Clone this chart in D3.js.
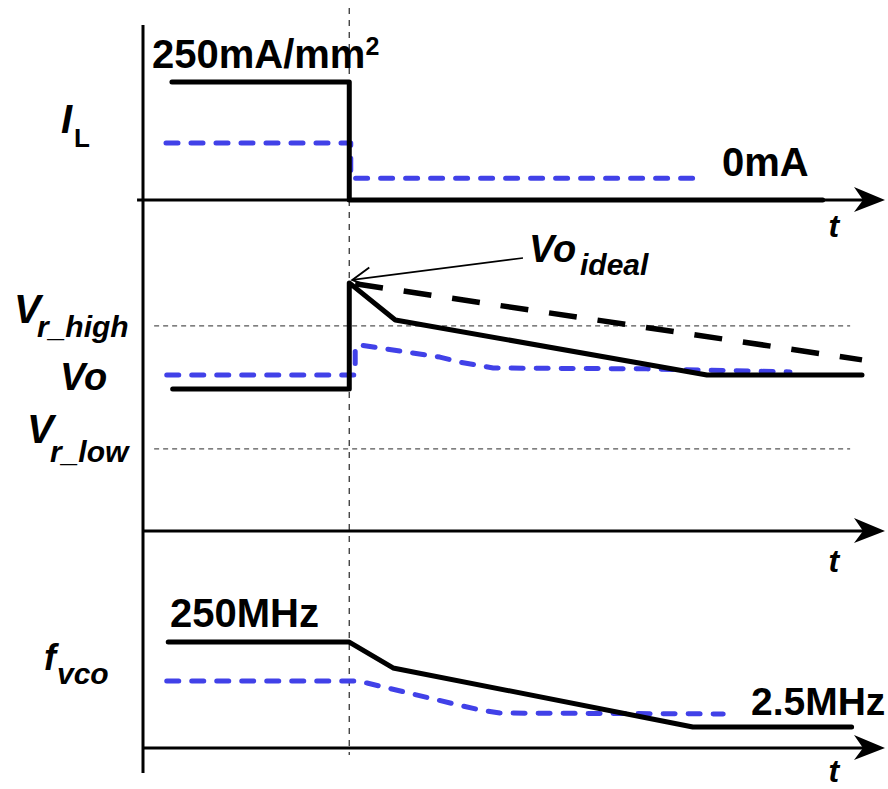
<!DOCTYPE html>
<html>
<head>
<meta charset="utf-8">
<script src="https://cdn.jsdelivr.net/npm/d3@7"></script>
<style>
  html, body { margin: 0; padding: 0; background: #fff; }
  svg { display: block; }
  text { font-family: "Liberation Sans", Arial, Helvetica, sans-serif; font-weight: bold; fill: #000; }
</style>
</head>
<body>
<svg id="chart" width="888" height="789"></svg>
<script>
// ---------- data (time in arbitrary units 0..100) ----------
const stepTime = 27.8;                       // moment the load current drops
// Panel 1: load current I_L (mA/mm^2)
const ilBlack = [[3.9, 250], [27.8, 250], [27.8, 0], [91.6, 0]];
const ilBlue  = [[3.1, 121], [28.0, 121], [28.0, 46], [75.3, 46]];
// Panel 2: output voltage (normalised)
const vrLevels = [0.730, 0.292];             // Vr_high, Vr_low
const voBlack = [[4.0, 0.505], [27.8, 0.505], [27.8, 0.883], [34.0, 0.751], [76.0, 0.555], [96.9, 0.555]];
const voIdeal = [[27.8, 0.883], [96.9, 0.609]];
const voBlue  = [[3.2, 0.555], [28.6, 0.555], [28.6, 0.655], [29.2, 0.662], [40.0, 0.619],
                 [42.7, 0.601], [47.2, 0.580], [67.9, 0.577], [87.2, 0.566]];
// Panel 3: VCO frequency (normalised)
const fBlack = [[3.4, 0.716], [27.8, 0.716], [33.7, 0.541], [74.1, 0.142], [95.5, 0.142]];
const fBlue  = [[3.2, 0.453], [28.8, 0.453], [30.2, 0.439], [41.4, 0.304], [45.4, 0.257],
                [48.1, 0.236], [78.2, 0.230]];
// text labels
const valueLabels = ["250mA/mm", "0mA", "250MHz", "2.5MHz"];

// ---------- scales ----------
const svg = d3.select("#chart");
const x  = d3.scaleLinear().domain([0, 100]).range([143, 885]);
const yI = d3.scaleLinear().domain([0, 250]).range([200, 82]);
const yV = d3.scaleLinear().domain([0, 1]).range([531, 250]);
const yF = d3.scaleLinear().domain([0, 1]).range([748, 600]);

const blue = "#4141e8";

// ---------- guides ----------
svg.append("line")
  .attr("x1", x(stepTime)).attr("x2", x(stepTime))
  .attr("y1", 8).attr("y2", 755)
  .attr("stroke", "#444").attr("stroke-width", 1.4).attr("stroke-dasharray", "6,6");

svg.selectAll("line.vr").data(vrLevels).join("line")
  .attr("class", "vr")
  .attr("x1", x(1.5)).attr("x2", x(95.3))
  .attr("y1", d => yV(d)).attr("y2", d => yV(d))
  .attr("stroke", "#555").attr("stroke-width", 1.2).attr("stroke-dasharray", "5,4");

// ---------- axes ----------
svg.append("line")
  .attr("x1", x(0)).attr("x2", x(0)).attr("y1", 25).attr("y2", 773)
  .attr("stroke", "#000").attr("stroke-width", 3);

const axesY = [[yI(0), x(-0.8), 37], [yV(0), x(0), 41], [yF(0), x(0), 34]];
const xe = x(100);
axesY.forEach(([ay, xs, toff]) => {
  svg.append("line")
    .attr("x1", xs).attr("x2", xe - 20).attr("y1", ay).attr("y2", ay)
    .attr("stroke", "#000").attr("stroke-width", 2.8);
  svg.append("path")
    .attr("d", `M${xe},${ay} L${xe - 31},${ay - 13} L${xe - 22},${ay} L${xe - 31},${ay + 12} Z`)
    .attr("fill", "#000");
  svg.append("text")
    .attr("x", x(92.4)).attr("y", ay + toff)
    .attr("font-size", 32).attr("font-style", "italic")
    .text("t");
});

// ---------- series ----------
const line = (ys) => d3.line().x(d => x(d[0])).y(d => ys(d[1]));

function solid(data, ys) {
  svg.append("path").attr("d", line(ys)(data))
    .attr("fill", "none").attr("stroke", "#000").attr("stroke-width", 5)
    .attr("stroke-linejoin", "round").attr("stroke-linecap", "round");
}
function blueDash(data, ys) {
  svg.append("path").attr("d", line(ys)(data))
    .attr("fill", "none").attr("stroke", blue).attr("stroke-width", 5)
    .attr("stroke-dasharray", "12,13")
    .attr("stroke-linejoin", "round").attr("stroke-linecap", "round");
}

blueDash(ilBlue, yI);
solid(ilBlack, yI);

blueDash(voBlue, yV);
solid(voBlack, yV);
svg.append("path").attr("d", line(yV)(voIdeal))
  .attr("fill", "none").attr("stroke", "#000").attr("stroke-width", 5.5)
  .attr("stroke-dasharray", "28,21").attr("stroke-dashoffset", -6);

blueDash(fBlue, yF);
solid(fBlack, yF);

// ---------- annotation arrow for Vo_ideal ----------
const tipX = x(voIdeal[0][0]) + 3, tipY = yV(voIdeal[0][1]) - 3;
const tailX = 523, tailY = 258;
svg.append("line")
  .attr("x1", tailX).attr("y1", tailY).attr("x2", tipX).attr("y2", tipY)
  .attr("stroke", "#000").attr("stroke-width", 1.7);
const ang = Math.atan2(tailY - tipY, tailX - tipX);
const ah = 21, spread = 0.5;
svg.append("path")
  .attr("d", `M${tipX + ah * Math.cos(ang - spread)},${tipY + ah * Math.sin(ang - spread)}
              L${tipX},${tipY}
              L${tipX + ah * Math.cos(ang + spread)},${tipY + ah * Math.sin(ang + spread)}`)
  .attr("fill", "none").attr("stroke", "#000").attr("stroke-width", 1.9);

// ---------- text ----------
function txt(xp, yp, size, str, italic) {
  return svg.append("text").attr("x", xp).attr("y", yp)
    .attr("font-size", size).attr("font-style", italic ? "italic" : "normal").text(str);
}
// value labels
const t1 = txt(152, 68, 40, valueLabels[0], false);
t1.append("tspan").attr("font-size", 25).attr("dy", -13).text("2");
txt(722, 176, 40, valueLabels[1], false);
txt(170, 627, 40, valueLabels[2], false);
txt(751, 715, 39, valueLabels[3], false);

// Vo_ideal label
txt(529, 262, 38, "Vo", true);
txt(580, 275, 30, "ideal", true);

// left-side signal labels
txt(61, 133, 40, "I", true);
txt(74, 147, 26, "L", false);

txt(14, 323, 40, "V", true);
txt(37, 337, 30, "r_high", true);
txt(60, 390, 38, "Vo", true);
txt(27, 443, 40, "V", true);
txt(50, 462, 30, "r_low", true);

txt(44, 670, 36, "f", true);
txt(57, 684, 30, "vco", true);
</script>
</body>
</html>
